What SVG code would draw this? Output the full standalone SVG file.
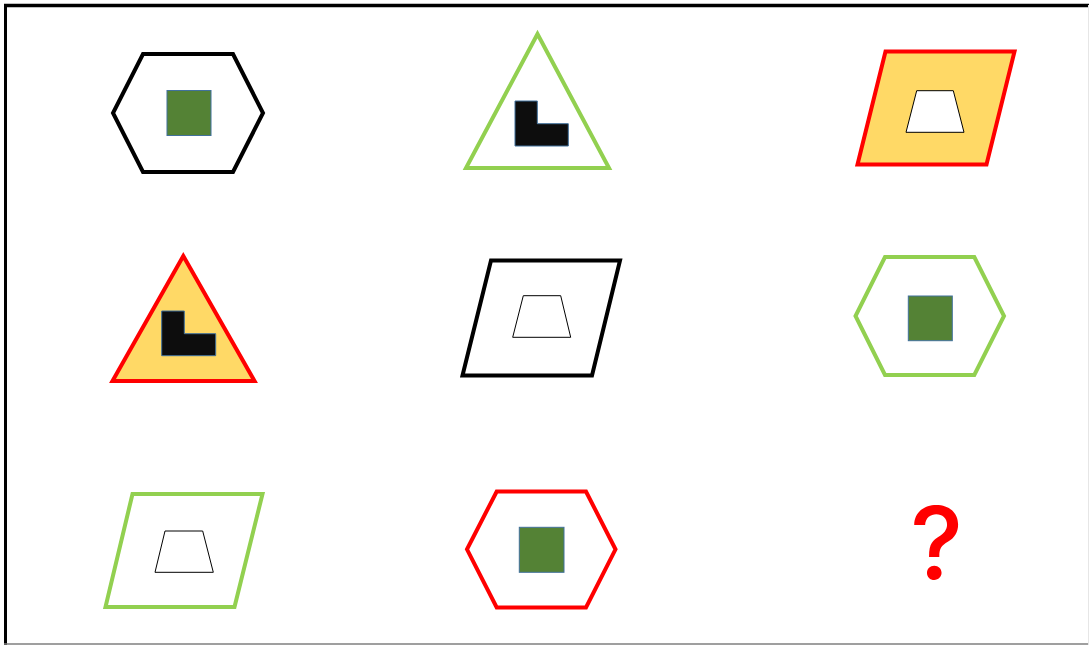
<svg xmlns="http://www.w3.org/2000/svg" width="1089" height="645" viewBox="0 0 1089 645">
<style>
.shape{stroke-width:4;stroke-linejoin:miter}
.blk{stroke:#000000}
.grn{stroke:#92D050}
.red{stroke:#FF0000}
.nofill{fill:#FFFFFF}
.yel{fill:#FFD966}
.sq{fill:#548235;stroke:#41719C;stroke-width:1}
.ell{fill:#0D0D0D;stroke:#41719C;stroke-width:1}
.trap{fill:#FFFFFF;stroke:#000000;stroke-width:1}
.q{font-family:Inter,"Liberation Sans",Arial,sans-serif;font-size:100px;font-weight:500;fill:#FF0000;text-anchor:middle}
</style>
<rect x="0" y="0" width="1089" height="645" fill="#FFFFFF"/>
<g id="frame">
<line x1="5.5" y1="4" x2="5.5" y2="645" stroke="#000000" stroke-width="3"/>
<line x1="4" y1="5.5" x2="1089" y2="5.5" stroke="#000000" stroke-width="3.5"/>
<line x1="4" y1="644" x2="1089" y2="644" stroke="#7F7F7F" stroke-width="1.5"/>
<line x1="1088.5" y1="5" x2="1088.5" y2="645" stroke="#E6E6E6" stroke-width="1"/>
</g>
<g id="connectors"></g>
<g id="cell-1-1">
<polygon class="shape blk nofill" points="143,54 233,54 263,113 233,172 143,172 113,113"/>
<rect class="sq" x="167" y="90.5" width="44" height="45"/>
</g>
<g id="cell-1-2">
<polygon class="shape grn nofill" points="537.5,34 466,168 609,168"/>
<path class="ell" d="M515,101 H537.3 V123.7 H568.3 V146 H515 Z"/>
</g>
<g id="cell-1-3">
<polygon class="shape red yel" points="885.5,51.5 1014.5,51.5 986.5,164.5 857.5,164.5"/>
<polygon class="trap" points="916.7,90.7 953.3,90.7 964,132.3 906,132.3"/>
</g>
<g id="cell-2-1">
<polygon class="shape red yel" points="183.3,256 112.5,381 254.5,381"/>
<path class="ell" d="M161.7,311 H184.3 V333.7 H215.7 V355.7 H161.7 Z"/>
</g>
<g id="cell-2-2">
<polygon class="shape blk nofill" points="491,260.5 620,260.5 592,375.5 462.5,375.5"/>
<polygon class="trap" points="523.3,295.7 560.7,295.7 570.7,337.3 512.7,337.3"/>
</g>
<g id="cell-2-3">
<polygon class="shape grn nofill" points="885,257 974.3,257 1004,316 974.3,375 885,375 855.5,316"/>
<rect class="sq" x="908.3" y="296" width="44" height="44.7"/>
</g>
<g id="cell-3-1">
<polygon class="shape grn nofill" points="132.5,494 262.5,494 234.5,607 105.5,607"/>
<polygon class="trap" points="165,531 202.7,531 213.3,572.3 155,572.3"/>
</g>
<g id="cell-3-2">
<polygon class="shape red nofill" points="496.7,491.5 586,491.5 615.5,549.3 586,607.5 496.7,607.5 467,549.3"/>
<rect class="sq" x="519.3" y="527.3" width="44.7" height="45"/>
</g>
<g id="cell-3-3">
<text class="q" x="936.5" y="579">?</text>
</g>
</svg>
